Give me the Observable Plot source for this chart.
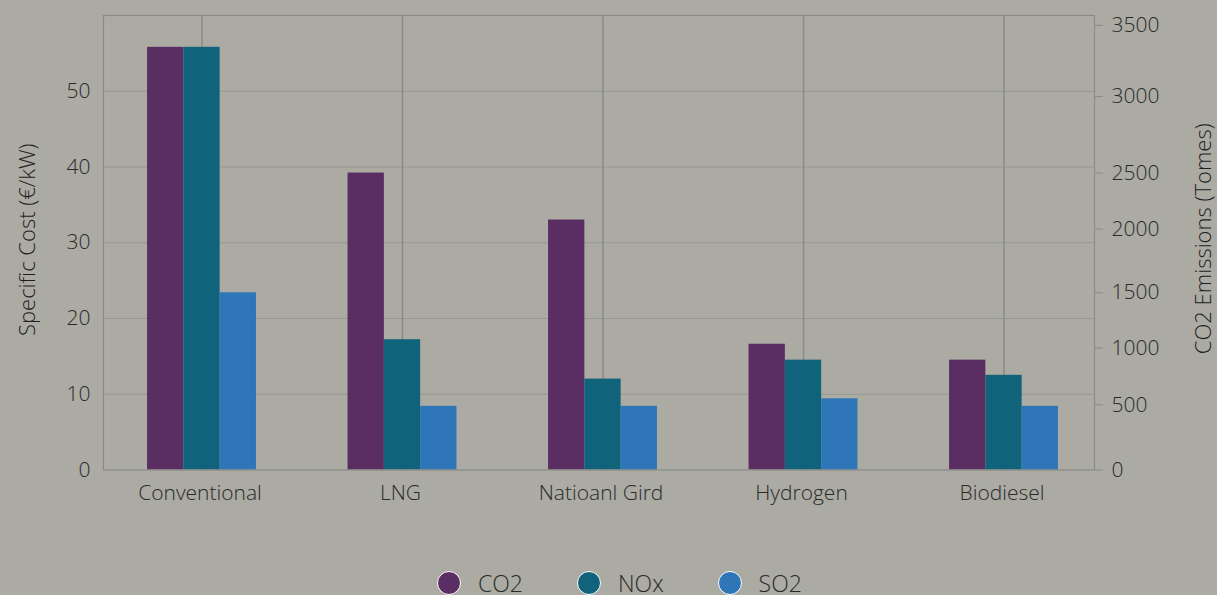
<!DOCTYPE html>
<html><head><meta charset="utf-8">
<script src="https://cdn.jsdelivr.net/npm/d3@7"></script>
<script src="https://cdn.jsdelivr.net/npm/@observablehq/plot@0.6"></script>
<style>
html,body{margin:0;padding:0;background:#abaaa3;width:1217px;height:595px;overflow:hidden;font-family:"Open Sans",sans-serif;}
#chart{position:absolute;left:0;top:0;}
#chart svg text{font-weight:300;}
#legend{position:absolute;left:437px;top:570px;display:flex;align-items:center;font-size:23px;font-weight:300;color:#2a2a2a;line-height:26px;}
.item{display:flex;align-items:center;margin-right:54px;}
.dot{width:22px;height:22px;border-radius:50%;border:1.5px solid #fff;margin-right:17px;}
</style></head><body>
<div id="chart"></div><div id="legend"></div>
<script>
const categories = ["Conventional", "LNG", "Natioanl Gird", "Hydrogen", "Biodiesel"];
const series = ["CO2", "NOx", "SO2"];
const co2 = [55.8, 39.2, 33.0, 16.6, 14.5];
const nox = [55.8, 17.2, 12.0, 14.5, 12.5];
const so2 = [23.4, 8.4, 8.4, 9.4, 8.4];
const leftTicks = [0, 10, 20, 30, 40, 50];
const rightTickLabels = ["0", "500", "1000", "1500", "2000", "2500", "3000", "3500"];
const rightTickAt = [0, 8.6, 16.1, 23.4, 31.8, 39.2, 49.3, 58.7];
const colors = ["#5b2e63", "#10637a", "#2f76b9"];

const values = [co2, nox, so2];
const rows = [];
series.forEach((s, i) => categories.forEach((c, j) => rows.push({category: c, series: s, value: values[i][j]})));

const band = 200.5, bw = 36.3, off = 45.8;
const bars = series.map((s, i) => Plot.barY(rows.filter(r => r.series === s), {
  x: "category", y: "value", fill: colors[i],
  insetLeft: off + bw * i, insetRight: band - off - bw * (i + 1)
}));

const chart = Plot.plot({
  width: 1217, height: 520,
  marginLeft: 103, marginRight: 123, marginTop: 15, marginBottom: 50.5,
  style: {fontFamily: "Open Sans", fontSize: "21px", color: "#2a2a2a", background: "transparent"},
  x: {type: "band", domain: categories, padding: 0, round: false, insetLeft: -1.75, insetRight: -9.75, axis: null},
  y: {domain: [0, 60], axis: null},
  marks: [
    Plot.gridY([10, 20, 30, 40, 50], {stroke: "#979792", strokeOpacity: 1, strokeWidth: 1.2}),
    Plot.ruleX(categories, {x: d => d, stroke: "#8a8a88", strokeWidth: 1.5}),
    ...bars,
    Plot.frame({stroke: "#8a8a88", strokeWidth: 1.2}),
    Plot.axisX({tickSize: 0, tickPadding: 15, dx: -2, label: null, fill: "#2a2a2a", fontSize: 21}),
    Plot.axisY(leftTicks, {anchor: "left", tickSize: 0, tickPadding: 13, label: null, fill: "#2a2a2a", fontSize: 21}),
    Plot.axisY(rightTickAt, {anchor: "right", tickSize: 8, tickPadding: 9, label: null, stroke: "#8a8a88", fill: "#2a2a2a", fontSize: 21,
      textAnchor: "start", tickFormat: d => rightTickLabels[rightTickAt.indexOf(d)]}),
    Plot.text(["Specific Cost (€/kW)"], {frameAnchor: "left", textAnchor: "middle", rotate: -90, dx: -76, dy: -3, text: d => d, fill: "#1e1e1e", fontSize: 22}),
    Plot.text(["CO2 Emissions (Tomes)"], {frameAnchor: "right", textAnchor: "middle", rotate: -90, dx: 109, dy: -4, text: d => d, fill: "#1e1e1e", fontSize: 22})
  ]
});
document.getElementById("chart").appendChild(chart);

const legend = document.getElementById("legend");
series.forEach((s, i) => {
  const it = document.createElement("div"); it.className = "item";
  const dot = document.createElement("span"); dot.className = "dot"; dot.style.background = colors[i];
  const t = document.createElement("span"); t.textContent = s;
  it.appendChild(dot); it.appendChild(t); legend.appendChild(it);
});
</script>
</body></html>
